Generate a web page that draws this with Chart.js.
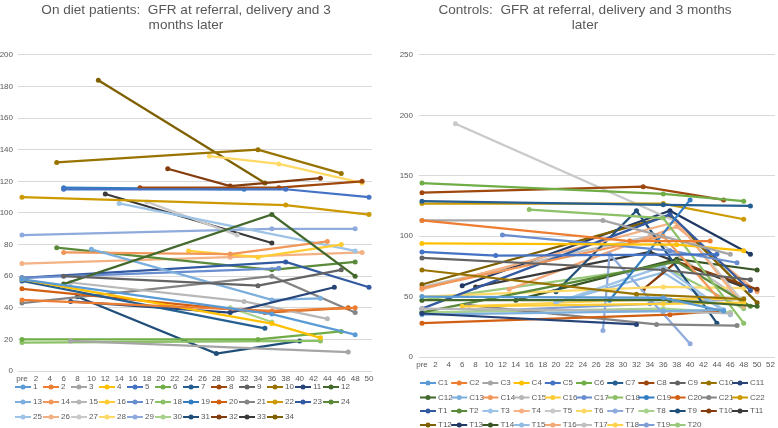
<!DOCTYPE html>
<html><head><meta charset="utf-8">
<script src="https://cdn.jsdelivr.net/npm/chart.js@4.4.1/dist/chart.umd.min.js"></script>
<style>
html,body{margin:0;padding:0;background:#fff;}
#wrap{position:relative;width:778px;height:428px;overflow:hidden;}
#c1{position:absolute;left:0;top:0;}
#c2{position:absolute;left:380px;top:0;}
</style></head><body>
<div id="wrap"><canvas id="c1" width="380" height="428"></canvas><canvas id="c2" width="398" height="428"></canvas></div>
<script>
// ---------- DATA ----------
const dietTitle = ['On diet patients:  GFR at referral, delivery and 3', 'months later'];
const ctrlTitle = ['Controls:  GFR at referral, delivery and 3 months', 'later'];

const dietXTicks = ['pre','2','4','6','8','10','12','14','16','18','20','22','24','26','28','30','32','34','36','38','40','42','44','46','48','50'];
const ctrlXTicks = ['pre','2','4','6','8','10','12','14','16','18','20','22','24','26','28','30','32','34','36','38','40','42','44','46','48','50','52'];
const dietYTicks = [0,20,40,60,80,100,120,140,160,180,200];
const ctrlYTicks = [0,50,100,150,200,250];

const dietLabels = ['1','2','3','4','5','6','7','8','9','10','11','12','13','14','15','16','17','18','19','20','21','22','23','24','25','26','27','28','29','30','31','32','33','34'];
const dietWeeks = [
  [0,36,48],[0,36,48],[7,47],[0,36,43],[6,38,50],[0,34,46],[0,35],[17,37,49],[6,34,46],[5,34,46],
  [7,30,45],[6,36,48],[10,36,43],[6,30,44],[7,32,44],[24,34,46],[0,37],[0,43],[6,32],[0,35,47],
  [0,36,48],[0,38,50],[0,38,50],[5,36,48],[14,48],[0,30,49],[18,31],[27,37,49],[0,36,48],[30,36],
  [8,28,40],[21,30,43],[12,36],[11,35]
];
const dietGFR = [
  [58,36,23],[45,38,40],[19,12],[58,30,21],[115,115,110],[20,20,25],[57,27],[116,116,120],[60,54,64],[132,140,125],
  [44,37,53],[55,99,60],[77,45,46],[75,74,82],[56,44,33],[76,72,80],[59,65],[18,19],[116,115],[52,37,40],
  [43,60,37],[110,105,99],[59,69,53],[78,64,69],[106,76],[68,72,75],[107,86],[136,131,119],[86,90,90],[40,31],
  [47,11,19],[128,117,122],[112,81],[184,119]
];

const ctrlLabels = ['C1','C2','C3','C4','C5','C6','C7','C8','C9','C10','C11','C12','C13','C14','C15','C16','C17','C18','C19','C20','C21','C22',
  'T1','T2','T3','T4','T5','T6','T7','T8','T9','T10','T11','T12','T13','T14','T15','T16','T17','T18','T19','T20'];
const ctrlWeeks = [
  [0,36,45],[0,31,43],[0,27,46],[0,38,48],[0,11,44],[0,36,48],[0,36,49],[0,33,45],[0,36,49],[0,32,48],
  [0,32],[0,37,50],[0,36,45],[0,36,44],[0,36,46],[6,36,48],[12,37,47],[16,36,48],[28,40],[0,37,44],
  [7,35,47],[0,36,48],
  [0,37,49],[0,38,49],[20,36,45],[0,38,48],[5,38,48],[0,36,48],[27,28,40],[0,36,46],[20,32,44],[33,38,50],
  [8,34,48],[0,37,50],[6,37,49],[14,38,50],[20,36,46],[13,38,50],[0,34,47],[6,36,48],[0,34,48],[0,36,48]
];
const ctrlGFR = [
  [50,49,38],[113,96,96],[113,113,85],[94,93,88],[87,84,85],[144,135,129],[129,126,125],[136,141,130],[82,72,64],[72,52,48],
  [36,27],[47,47,42],[35,38,39],[57,100,50],[40,38,36],[42,44,45],[101,88,78],[122,115,28],[47,130],[28,35,38],
  [43,27,26],[127,127,114],
  [40,118,55],[37,79,42],[45,75,39],[56,112,42],[193,112,45],[50,58,57],[22,85,11],[37,40,37],[54,121,28],[56,79,56],
  [58,87,58],[60,117,45],[59,121,85],[47,81,72],[45,70,35],[56,108,54],[58,100,50],[42,48,48],[36,44,48],[47,75,40]
];

// ---------- STYLE ----------
const palette = [
  '#5B9BD5','#ED7D31','#A5A5A5','#FFC000','#4472C4','#70AD47',
  '#255E91','#9E480E','#636363','#997300','#264478','#43682B',
  '#7CAFDD','#F1975A','#B7B7B7','#FFCD33','#698ED0','#8CC168',
  '#327DC2','#D26012','#848484','#CC9A00','#335AA1','#5A8A39',
  '#9DC3E6','#F4B183','#C9C9C9','#FFD966','#8FAADC','#A9D18E',
  '#1F4E79','#843C0C','#3A3A3A','#7F6000','#203864','#375623',
  '#92BCE3','#F3A878','#C0C0C0','#FFD34D','#7F9ED6','#9BC97C'
];
const TXT = '#595959';
const titleFont = "'Liberation Sans',sans-serif";
const tickFont = "'Liberation Sans',sans-serif";

function legendPlugin(cfg){
  return {
    id:'gridLegend',
    afterDraw(chart){
      const ctx = chart.ctx;
      ctx.save();
      ctx.font = '8px ' + tickFont;
      ctx.textBaseline = 'middle';
      ctx.textAlign = 'left';
      chart.data.datasets.forEach((ds,i)=>{
        const r = Math.floor(i/cfg.perRow), c = i % cfg.perRow;
        const x = cfg.x0 + c*cfg.slot, y = cfg.rows[r];
        ctx.strokeStyle = ds.borderColor; ctx.lineWidth = 2;
        ctx.beginPath(); ctx.moveTo(x,y); ctx.lineTo(x+16,y); ctx.stroke();
        ctx.fillStyle = ds.borderColor;
        ctx.beginPath(); ctx.arc(x+8,y,2.5,0,Math.PI*2); ctx.fill();
        ctx.fillStyle = TXT;
        ctx.fillText(ds.label, x+18, y);
      });
      ctx.restore();
    }
  };
}

function makeChart(id, title, labels, weeks, gfr, xTicks, yTicks, o){
  const datasets = labels.map((lab,i)=>({
    label: lab,
    data: weeks[i].map((w,j)=>({x:w, y:gfr[i][j]})),
    borderColor: palette[i],
    backgroundColor: palette[i],
    borderWidth: 2.25,
    pointRadius: 2.5,
    pointBorderWidth: 0,
    pointHoverRadius: 2.5,
    tension: 0
  }));
  return new Chart(document.getElementById(id), {
    type:'line',
    data:{datasets},
    options:{
      responsive:false, animation:false, events:[],
      layout:{padding:{left:o.padL, right:o.padR, top:0, bottom:o.padB}},
      plugins:{
        legend:{display:false}, tooltip:{enabled:false},
        title:{display:true, text:title, color:TXT,
          font:{family:titleFont, size:13.6, weight:'normal', lineHeight:1.1},
          padding:{top:3, bottom:o.titleBottom}}
      },
      scales:{
        x:{type:'linear', min:o.xmin, max:o.xmax,
          afterBuildTicks:(ax)=>{ ax.ticks = xTicks.map((t,k)=>({value:k*2})); },
          afterFit:(ax)=>{ ax.height = 14; },
          grid:{display:false, drawTicks:false}, border:{display:false},
          ticks:{autoSkip:false, maxRotation:0, padding:3, color:TXT, font:{family:tickFont, size:8},
            callback:(v)=> xTicks[Math.round(v/2)]}
        },
        y:{type:'linear', min:yTicks[0], max:yTicks[yTicks.length-1],
          afterBuildTicks:(ax)=>{ ax.ticks = yTicks.map(v=>({value:v})); },
          afterFit:(ax)=>{ ax.width = o.yW; },
          grid:{color:'#D9D9D9', lineWidth:1, drawTicks:false}, border:{display:false},
          ticks:{padding:o.yPad, color:TXT, font:{family:tickFont, size:8}}
        }
      }
    },
    plugins:[legendPlugin(o.legend)]
  });
}

makeChart('c1', dietTitle, dietLabels, dietWeeks, dietGFR, dietXTicks, dietYTicks, {
  padL:0, padR:8, padB:43, titleBottom:22, xmin:-0.576, xmax:50.43, yW:18, yPad:5,
  legend:{x0:15, slot:28, perRow:12, rows:[387,402,417]}
});
makeChart('c2', ctrlTitle, ctrlLabels, ctrlWeeks, ctrlGFR, ctrlXTicks, ctrlYTicks, {
  padL:12, padR:0, padB:57, titleBottom:22, xmin:-0.444, xmax:52.67, yW:27, yPad:6,
  legend:{x0:40, slot:31.2, perRow:11, rows:[383,397.5,411,425]}
});
</script>
</body></html>
